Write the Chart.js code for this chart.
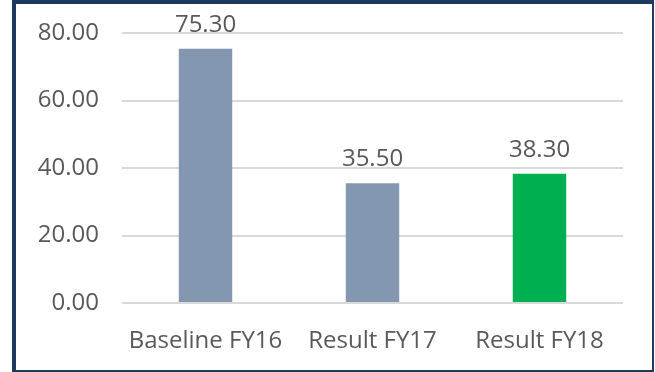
<!DOCTYPE html>
<html>
<head>
<meta charset="utf-8">
<script src="https://cdn.jsdelivr.net/npm/chart.js@4"></script>
<style>
  html, body { margin: 0; padding: 0; background: #fff; }
  #wrap { position: relative; width: 655px; height: 372px; }
  #frame {
    position: absolute; left: 12px; top: 0; width: 636px; height: 366px;
    border-top: 4px solid #1f3a5f; border-left: 4px solid #1f3a5f;
    border-right: 2px solid #1f3a5f; border-bottom: 2px solid #1f3a5f;
    pointer-events: none;
  }
</style>
</head>
<body>
<div id="wrap">
  <canvas id="grafico" width="655" height="372"></canvas>
  <div id="frame"></div>
</div>
<script>
var categorias = ['Baseline FY16', 'Result FY17', 'Result FY18']
var valores = [75.30, 35.50, 38.30]
var cores = ['#8497b0', '#8497b0', '#00b050']
var ticksY = [0, 20, 40, 60, 80]

var corTexto = '#595959'
var fonte = "'Open Sans', sans-serif"

// rotulos em cima das barras
var rotulos = {
  id: 'rotulos',
  afterDatasetsDraw: function (chart) {
    var ctx = chart.ctx
    var meta = chart.getDatasetMeta(0)
    ctx.save()
    ctx.font = '24px ' + fonte
    ctx.fillStyle = corTexto
    ctx.textAlign = 'center'
    ctx.textBaseline = 'bottom'
    meta.data.forEach(function (barra, i) {
      ctx.fillText(valores[i].toFixed(2), barra.x, barra.y - 12)
    })
    ctx.restore()
  }
}

new Chart(document.getElementById('grafico'), {
  type: 'bar',
  data: {
    labels: categorias,
    datasets: [{
      data: valores,
      backgroundColor: cores,
      barPercentage: 0.32,
      categoryPercentage: 1
    }]
  },
  options: {
    responsive: false,
    animation: false,
    layout: { padding: { top: 33, right: 32, left: 0, bottom: 0 } },
    plugins: { legend: { display: false }, tooltip: { enabled: false } },
    scales: {
      x: {
        grid: { display: false },
        border: { display: false },
        ticks: { color: corTexto, font: { family: fonte, size: 24 }, padding: 16 },
        afterFit: function (s) { s.height = 69; s.paddingLeft = 0; s.paddingRight = 0 }
      },
      y: {
        min: 0,
        max: 80,
        afterBuildTicks: function (s) { s.ticks = ticksY.map(function (v) { return { value: v } }) },
        grid: { color: '#d9d9d9', lineWidth: 2, drawTicks: false },
        border: { display: false },
        ticks: {
          color: corTexto,
          font: { family: fonte, size: 24 },
          padding: 23,
          callback: function (v) { return Number(v).toFixed(2) }
        },
        afterFit: function (s) { s.width = 122; s.paddingTop = 0; s.paddingBottom = 0 }
      }
    }
  },
  plugins: [rotulos]
})
</script>
</body>
</html>
